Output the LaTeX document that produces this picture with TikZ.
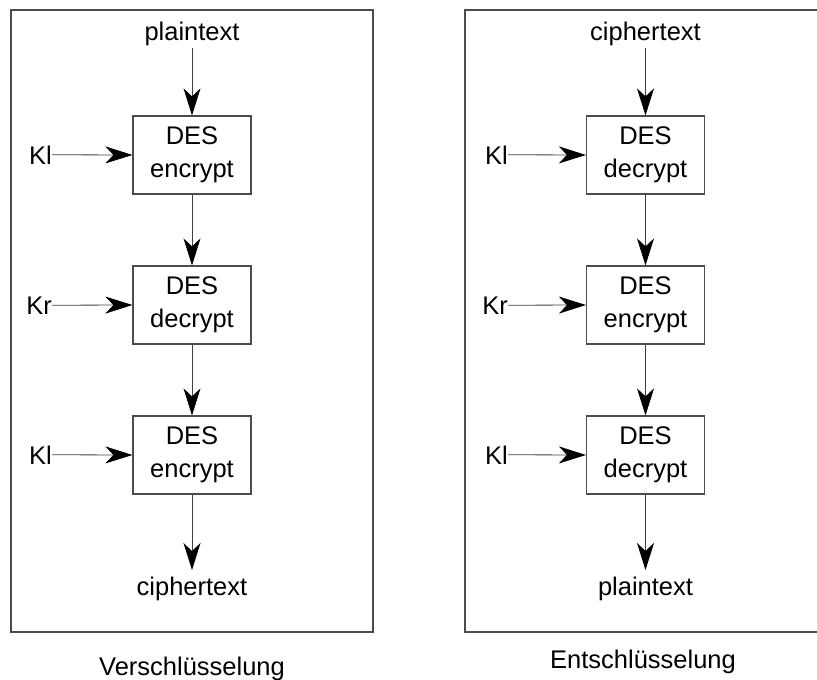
\documentclass[tikz,border=0pt]{standalone}
\usepackage{fontspec}
\setmainfont{Liberation Sans}
\usetikzlibrary{arrows.meta}
\begin{document}
\begin{tikzpicture}[x=1pt,y=-1pt,
  frame/.style={draw=black!70,line width=1.2pt},
  desbox/.style={draw=black!70,line width=1.2pt,minimum width=118pt,minimum height=78pt,inner sep=0pt,align=center,font=\fontsize{25.5}{33}\selectfont},
  lbl/.style={inner sep=0pt,anchor=base,font=\fontsize{25.5}{30}\selectfont},
  captext/.style={inner sep=0pt,anchor=base,font=\fontsize{25.5}{30}\selectfont},
  flow/.style={draw=black!75,line width=0.8pt,-{Stealth[length=27pt,width=17pt,inset=8pt,color=black,fill=black]}}
]
\useasboundingbox (0,0) rectangle (817,680);
% frames
\draw[frame] (11,10) rectangle (373,632);
\draw[frame] (820,10) -- (465,10) -- (465,632) -- (820,632);

% left column
\node[lbl] (lp) at (192,40) {plaintext};
\coordinate (lps) at (192,48);
\node[desbox] (l1) at (192,155) {DES\\encrypt};
\node[desbox] (l2) at (192,305) {DES\\decrypt};
\node[desbox] (l3) at (192,455) {DES\\encrypt};
\node[lbl] (lc) at (192,595) {ciphertext};
\coordinate (lce) at (192,570);
\node[lbl,anchor=base east] (lk1) at (52,164) {Kl};
\node[lbl,anchor=base east] (lk2) at (52,314) {Kr};
\node[lbl,anchor=base east] (lk3) at (52,464) {Kl};
\draw[flow] (lps) -- (l1.north);
\draw[flow] (l1.south) -- (l2.north);
\draw[flow] (l2.south) -- (l3.north);
\draw[flow] (l3.south) -- (lce);
\draw[flow] (lk1.east) -- (l1.west);
\draw[flow] (lk2.east) -- (l2.west);
\draw[flow] (lk3.east) -- (l3.west);

% right column
\node[lbl] (rc) at (645.5,40) {ciphertext};
\coordinate (rcs) at (645.5,48);
\node[desbox] (r1) at (645.5,155) {DES\\decrypt};
\node[desbox] (r2) at (645.5,305) {DES\\encrypt};
\node[desbox] (r3) at (645.5,455) {DES\\decrypt};
\node[lbl] (rp) at (645.5,595) {plaintext};
\coordinate (rpe) at (645.5,570);
\node[lbl,anchor=base east] (rk1) at (508,164) {Kl};
\node[lbl,anchor=base east] (rk2) at (508,314) {Kr};
\node[lbl,anchor=base east] (rk3) at (508,464) {Kl};
\draw[flow] (rcs) -- (r1.north);
\draw[flow] (r1.south) -- (r2.north);
\draw[flow] (r2.south) -- (r3.north);
\draw[flow] (r3.south) -- (rpe);
\draw[flow] (rk1.east) -- (r1.west);
\draw[flow] (rk2.east) -- (r2.west);
\draw[flow] (rk3.east) -- (r3.west);

% captions
\node[captext] (capl) at (192,675) {Verschlüsselung};
\node[captext] (capr) at (643,668) {Entschlüsselung};
\end{tikzpicture}
\end{document}
